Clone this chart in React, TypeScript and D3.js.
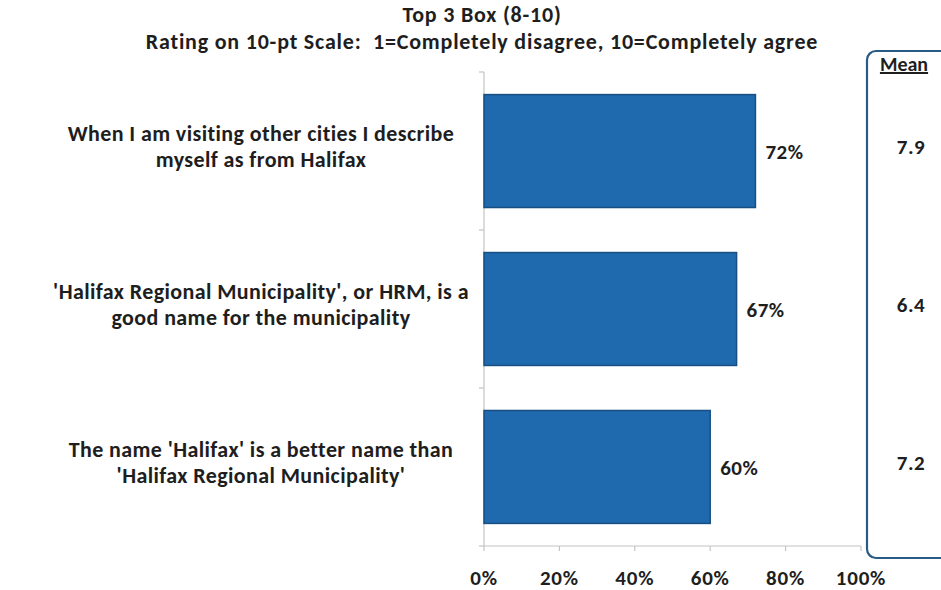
import React, { useEffect, useRef } from 'react';
import * as d3 from 'd3';

// chart data
const categories: string[][] = [
  ['When I am visiting other cities I describe', 'myself as from Halifax'],
  ["'Halifax Regional Municipality', or HRM, is a", 'good name for the municipality'],
  ["The name 'Halifax' is a better name than", "'Halifax Regional Municipality'"],
];
const top3Values = [72, 67, 60];
const meanValues = ['7.9', '6.4', '7.2'];
const xTicks = [0, 20, 40, 60, 80, 100];
const titleLines = [
  'Top 3 Box (8-10)',
  'Rating on 10-pt Scale:  1=Completely disagree, 10=Completely agree',
];

const FONT = "Carlito, Lato, 'Open Sans', sans-serif";

const App = () => {
  const ref = useRef<SVGSVGElement>(null);

  useEffect(() => {
    const svg = d3.select(ref.current);
    svg.selectAll('*').remove();

    const height = 590;
    const margin = { top: 72, left: 484, bottom: 44 };

    const x = d3.scaleLinear().domain([0, 100]).range([margin.left, margin.left + 377]);
    const y = d3.scaleBand<number>()
      .domain(d3.range(categories.length))
      .range([margin.top, height - margin.bottom])
      .paddingInner(0.285)
      .paddingOuter(0.143);

    const ink = '#1e1e1e';
    const axisColor = '#c4c4c4';

    // title
    svg.append('g')
      .selectAll('text')
      .data(titleLines)
      .join('text')
      .attr('x', 482)
      .attr('y', (d, i) => 22 + i * 27)
      .attr('text-anchor', 'middle')
      .attr('font-family', FONT)
      .attr('font-weight', 700)
      .attr('font-size', 22)
      .attr('letter-spacing', 0.8)
      .style('white-space', 'pre')
      .attr('fill', ink)
      .text(d => d);

    // axes
    const yTop = margin.top, yBot = height - margin.bottom;
    const g = svg.append('g');
    g.append('line')
      .attr('x1', x(0)).attr('x2', x(0))
      .attr('y1', yTop).attr('y2', yBot)
      .attr('stroke', axisColor).attr('stroke-width', 1.2);
    g.append('line')
      .attr('x1', x(0)).attr('x2', x(100))
      .attr('y1', yBot).attr('y2', yBot)
      .attr('stroke', axisColor).attr('stroke-width', 1.2);

    // y ticks at band boundaries
    const yBoundaries = d3.range(categories.length + 1).map(i => yTop + i * (yBot - yTop) / categories.length);
    g.selectAll('line.ytick')
      .data(yBoundaries)
      .join('line')
      .attr('class', 'ytick')
      .attr('x1', x(0) - 5).attr('x2', x(0))
      .attr('y1', d => d).attr('y2', d => d)
      .attr('stroke', axisColor).attr('stroke-width', 1.2);

    // x ticks
    g.selectAll('line.xtick')
      .data(xTicks)
      .join('line')
      .attr('class', 'xtick')
      .attr('x1', d => x(d)).attr('x2', d => x(d))
      .attr('y1', yBot).attr('y2', yBot + 5)
      .attr('stroke', axisColor).attr('stroke-width', 1.2);

    g.selectAll('text.xlabel')
      .data(xTicks)
      .join('text')
      .attr('class', 'xlabel')
      .attr('x', d => x(d))
      .attr('y', 585)
      .attr('text-anchor', 'middle')
      .attr('font-family', FONT)
      .attr('font-weight', 700)
      .attr('font-size', 21)
      .attr('letter-spacing', 0.8)
      .attr('fill', ink)
      .text(d => d + '%');

    // bars
    svg.append('g')
      .selectAll('rect')
      .data(top3Values)
      .join('rect')
      .attr('x', x(0))
      .attr('y', (d, i) => y(i)!)
      .attr('width', d => x(d) - x(0))
      .attr('height', y.bandwidth())
      .attr('fill', '#1f6aae')
      .attr('stroke', '#174f82')
      .attr('stroke-width', 1.5);

    // value labels
    svg.append('g')
      .selectAll('text')
      .data(top3Values)
      .join('text')
      .attr('x', d => x(d) + 10)
      .attr('y', (d, i) => y(i)! + y.bandwidth() / 2 + 8)
      .attr('font-family', FONT)
      .attr('font-weight', 700)
      .attr('font-size', 21)
      .attr('letter-spacing', 0.5)
      .attr('fill', ink)
      .text(d => d + '%');

    // category labels
    const cat = svg.append('g')
      .selectAll('text')
      .data(categories)
      .join('text')
      .attr('text-anchor', 'middle')
      .attr('font-family', FONT)
      .attr('font-weight', 700)
      .attr('font-size', 22)
      .attr('letter-spacing', 0.4)
      .attr('fill', ink);
    cat.each(function (lines, i) {
      const cy = y(i)! + y.bandwidth() / 2;
      d3.select(this)
        .selectAll('tspan')
        .data(lines)
        .join('tspan')
        .attr('x', 261)
        .attr('y', (d, j) => cy - 10 + j * 26)
        .text(d => d);
    });

    // mean box
    svg.append('rect')
      .attr('x', 867)
      .attr('y', 51)
      .attr('width', 100)
      .attr('height', 507)
      .attr('rx', 9)
      .attr('fill', 'none')
      .attr('stroke', '#285b87')
      .attr('stroke-width', 2.2);

    svg.append('text')
      .attr('x', 904)
      .attr('y', 71)
      .attr('text-anchor', 'middle')
      .attr('font-family', FONT)
      .attr('font-weight', 700)
      .attr('font-size', 20)
      .attr('text-decoration', 'underline')
      .attr('fill', ink)
      .text('Mean');

    svg.append('g')
      .selectAll('text')
      .data(meanValues)
      .join('text')
      .attr('x', 911)
      .attr('y', (d, i) => y(i)! + y.bandwidth() / 2 + 3)
      .attr('text-anchor', 'middle')
      .attr('font-family', FONT)
      .attr('font-weight', 700)
      .attr('font-size', 21)
      .attr('letter-spacing', 0.5)
      .attr('fill', ink)
      .text(d => d);
  }, []);

  return (
    <svg ref={ref} width={941} height={590}
      style={{ position: 'absolute', left: 0, top: 0, background: '#fff' }} />
  );
};

export default App;
